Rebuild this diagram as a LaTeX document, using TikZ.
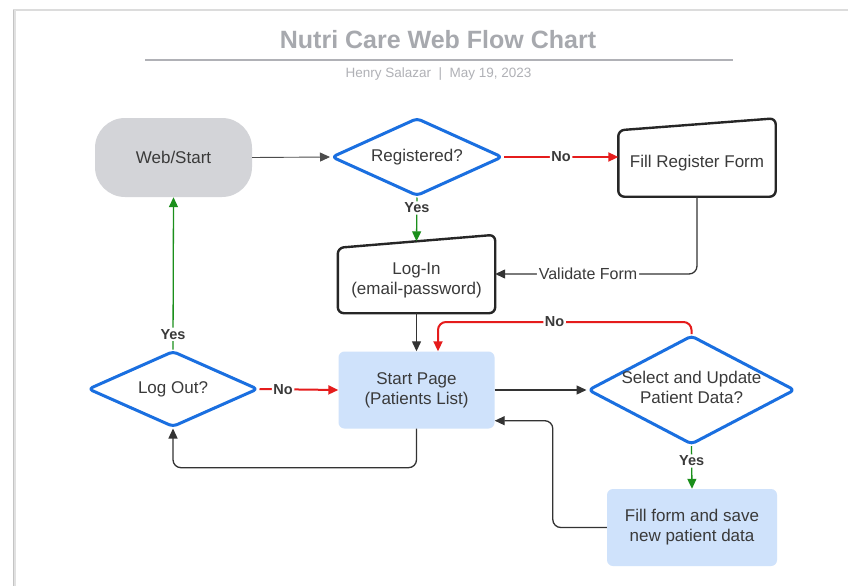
\documentclass[tikz,border=0pt]{standalone}
\usepackage{fontspec}
\setmainfont{Liberation Sans}
\usetikzlibrary{arrows.meta,shapes.geometric,calc}

\definecolor{lucidblue}{HTML}{1A6FE0}
\definecolor{lucidred}{HTML}{E51C1C}
\definecolor{lucidgreen}{HTML}{1B8F1B}
\definecolor{pillgray}{HTML}{D3D4D8}
\definecolor{paleblue}{HTML}{CFE2FB}
\definecolor{inkgray}{HTML}{3A3A3A}
\definecolor{titlegray}{HTML}{A7A9AE}
\definecolor{edgegray}{HTML}{C4C4C4}

\begin{document}
\begin{tikzpicture}[x=1pt,y=-1pt,
  every node/.style={font=\fontsize{17}{20}\selectfont, text=inkgray},
  terminal/.style={fill=pillgray, rounded corners=30pt, minimum width=157pt, minimum height=79pt},
  decision/.style={diamond, aspect=2.2, draw=lucidblue, line width=3pt, rounded corners=4pt, line join=round, fill=white, inner sep=0pt},
  process/.style={fill=paleblue, rounded corners=6pt, minimum width=156pt, minimum height=77pt, align=center},
  manual/.style={minimum width=157pt, minimum height=78pt},
  manualedge/.style={draw=black!85, line width=2.4pt, rounded corners=6pt, line join=round},
  flow/.style={draw=black!80, line width=1.3pt, -{Triangle[length=10pt,width=9pt]}, rounded corners=8pt},
  yesflow/.style={flow, draw=lucidgreen},
  noflow/.style={flow, draw=lucidred, line width=2pt},
  lbl/.style={fill=white, inner sep=1.5pt, font=\bfseries\fontsize{14.5}{16}\selectfont, text=inkgray}
]
\useasboundingbox (0,0) rectangle (848,586);
\fill[white] (0,0) rectangle (848,586);

% sheet edges with a soft shadow
\draw[edgegray!60, line width=1.5pt] (13,10) -- (848,10);
\draw[edgegray!50, line width=3pt] (14.5,10) -- (14.5,586);
\draw[edgegray, line width=1.2pt] (13.2,10) -- (13.2,586);

% heading
\node[font=\bfseries\fontsize{25}{28}\selectfont, text=titlegray] (title) at (438,40) {Nutri Care Web Flow Chart};
\draw[titlegray!90, line width=2.5pt] (145,60) -- (733,60);
\node[font=\fontsize{13.5}{16}\selectfont, text=titlegray!90] (byline) at (438.5,74) {Henry Salazar \ | \ May 19, 2023};

% shapes
\node[terminal] (web) at (173.5,157.5) {Web/Start};
\node[decision, minimum width=171pt, minimum height=78pt] (q1) at (417,157) {Registered?};
\node[manual, label={[yshift=-5.5pt]center:Fill Register Form}] (reg) at (697,157.5) {};
\draw[manualedge] (reg.south west) -- ($(reg.north west)+(0,12)$) -- (reg.north east) -- (reg.south east) -- cycle;
\node[manual, label={[align=center,yshift=-6pt]center:Log-In\\(email-password)}] (login) at (416.5,274) {};
\draw[manualedge] (login.south west) -- ($(login.north west)+(0,13)$) -- (login.north east) -- (login.south east) -- cycle;
\node[process] (start) at (416.5,390) {Start Page\\(Patients List)};
\node[decision, minimum width=207pt, minimum height=109pt,
      label={[align=center,yshift=2.5pt]center:Select and Update\\Patient Data?}] (q2) at (691.5,390) {};
\node[decision, minimum width=170pt, minimum height=76pt] (q3) at (173,389) {Log Out?};
\node[process, minimum width=170pt] (fill) at (692,527.5) {Fill form and save\\new patient data};

% connectors
\draw[flow, draw=black!70, line width=0.9pt] (web.east) -- (q1.west);
\draw[noflow] (q1.east) -- node[lbl]{No} (q1.east -| reg.west);
\draw[yesflow] (q1.south) -- node[lbl, pos=0.24]{Yes} ($(login.north)+(0,6.5)$);
\draw[flow] (reg.south) |- node[pos=0.77, fill=white, inner sep=2pt, font=\fontsize{16}{18}\selectfont]{Validate Form} (login.east);
\draw[flow] (login.south) -- (start.north);
\draw[noflow] (q2.north) -- ++(0,-12) -| node[lbl, pos=0.27]{No} ($(start.north)+(21.5,0)$);
\draw[flow] (start.east) -- (q2.west);
\draw[yesflow] (q2.south) -- node[lbl, pos=0.35]{Yes} (fill.north);
\draw[flow] (fill.west) -- ++(-54,0) |- ($(start.south east)+(0,-8)$);
\draw[flow] (start.south) -- ++(0,39) -| (q3.south);
\draw[noflow] (q3.east) -- node[lbl, pos=0.3]{No} (start.west);
\draw[yesflow] (q3.north) -- node[lbl, pos=0.1]{Yes} (web.south);
\end{tikzpicture}
\end{document}
